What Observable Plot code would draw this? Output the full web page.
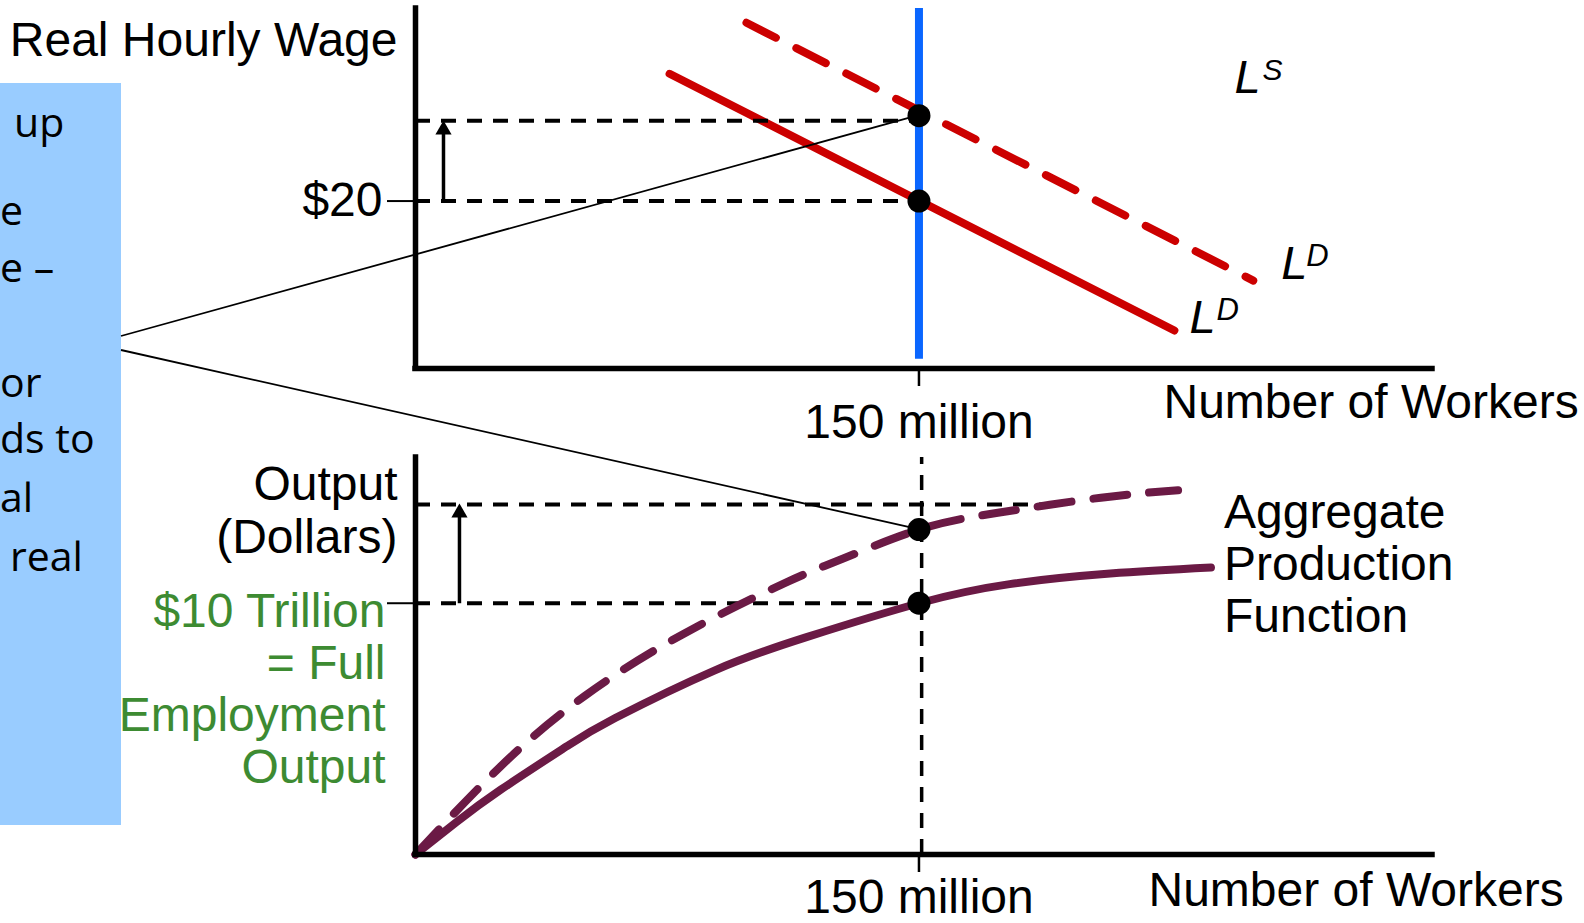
<!DOCTYPE html>
<html>
<head>
<meta charset="utf-8">
<script src="https://cdn.jsdelivr.net/npm/d3@7"></script>
<script src="https://cdn.jsdelivr.net/npm/@observablehq/plot@0.6"></script>
<style>
html, body { margin: 0; padding: 0; background: #fff; }
#wrap { position: relative; width: 1584px; height: 923px; overflow: hidden; }
#wrap > svg { position: absolute; left: 0; }
</style>
</head>
<body>
<div id="wrap"></div>
<script>
// ---------- data ----------
const workerTicks = [150];                 // millions of workers
const wageTicks = [20];                    // $ per hour
const outputTicks = [10];                  // $ trillion
const ldWorkers = [75.7, 226.1];           // labor demand (solid)
const ldWage = [35.2, 4.54];
const ld2Workers = [98.6, 249.6];          // labor demand after shift (dashed)
const ld2Wage = [41.3, 10.5];
const lsWorkers = [150];                   // vertical labor supply
const eqWorkers = [150, 150];
const eqWage = [20, 30.2];                 // old / new equilibrium wage
const wageGuides = [20, 29.6];
const apfWorkers = [0, 12, 25.3, 45, 59.5, 89.2, 116.5, 150, 177, 207, 237];
const apfOutput = [0, 1.27, 2.57, 4.3, 5.43, 7.33, 8.65, 10, 10.76, 11.18, 11.42];
const apf2Workers = [0, 25.3, 50.3, 80.1, 110.8, 127.8, 150, 173.5, 204.2, 227.2];
const apf2Output = [0, 3.5, 6.3, 8.8, 10.85, 11.8, 12.93, 13.6, 14.2, 14.5];
const eqOutput = [10, 12.93];
const outputGuides = [10, 13.93];
const boxLines = ["up", "e", "e –", "or", "ds to", "al", "real"];

// ---------- build tables ----------
const ld = ldWorkers.map((x, i) => ({x, y: ldWage[i]}));
const ld2 = ld2Workers.map((x, i) => ({x, y: ld2Wage[i]}));
const apf = apfWorkers.map((x, i) => ({x, y: apfOutput[i]}));
const apf2 = apf2Workers.map((x, i) => ({x, y: apf2Output[i]}));
const eqTop = eqWorkers.map((x, i) => ({x, y: eqWage[i]}));
const eqBot = eqWorkers.map((x, i) => ({x, y: eqOutput[i]}));

const FONT = "'Liberation Sans', Arial, Helvetica, sans-serif";
const FS = 48;
const RED = "#cc0000", BLUE = "#0a66ff", MAROON = "#6b1a45", GREEN = "#3d8b32";
const DASH = "15,11";
const W = 1584;
const X_DOMAIN = [0, 303];
const common = {
  width: W, marginLeft: 415, marginRight: 152,
  x: {domain: X_DOMAIN},
  style: {fontFamily: FONT, fontSize: FS + "px", background: "transparent", overflow: "visible", color: "#000"}
};

const ldEnd = ld[ld.length - 1], ld2End = ld2[ld2.length - 1];

// ---------- top panel: labor market ----------
const topPlot = Plot.plot({
  ...common,
  height: 460, marginTop: 8, marginBottom: 92,
  y: {domain: [0, 43]},
  marks: [
    Plot.ruleX(lsWorkers.map(x => ({x, y1: 1.1, y2: 43})), {x: "x", y1: "y1", y2: "y2", stroke: BLUE, strokeWidth: 8}),
    Plot.line(ld, {x: "x", y: "y", stroke: RED, strokeWidth: 8}),
    Plot.line(ld2, {x: "x", y: "y", stroke: RED, strokeWidth: 8, strokeDasharray: "33,23"}),
    Plot.ruleY(wageGuides.map(y => ({y, x1: 0, x2: 150})), {y: "y", x1: "x1", x2: "x2", stroke: "#000", strokeWidth: 4, strokeDasharray: DASH}),
    Plot.link([{x: 8.34, y1: wageGuides[0], y2: 28.4}], {x1: "x", x2: "x", y1: "y1", y2: "y2", stroke: "#000", strokeWidth: 3.5}),
    Plot.dot([{x: 8.34, y: 28.5}], {x: "x", y: "y", symbol: "triangle", r: 6, fill: "#000", stroke: null}),
    Plot.dot(eqTop, {x: "x", y: "y", r: 11.5, fill: "#000", stroke: null}),
    Plot.ruleX([0], {stroke: "#000", strokeWidth: 5.5, strokeLinecap: "square"}),
    Plot.ruleY([0], {stroke: "#000", strokeWidth: 5.5, strokeLinecap: "square"}),
    Plot.axisX({ticks: workerTicks, tickFormat: d => `${d} million`, tickSize: 18, tickPadding: 17, strokeWidth: 2.5, label: null, fontSize: FS}),
    Plot.axisY({ticks: wageTicks, tickFormat: d => `$${d}`, tickSize: 28, tickPadding: 5, strokeWidth: 2, label: null, fontSize: FS}),
    Plot.text(["Real Hourly Wage"], {frameAnchor: "top-left", textAnchor: "end", lineAnchor: "top", dx: -18, dy: 13, fontSize: FS}),
    Plot.text(["Number of Workers"], {frameAnchor: "bottom-right", textAnchor: "start", lineAnchor: "top", dx: -269, dy: 15, fontSize: FS}),
    // L^S
    Plot.text([{x: 244.0, y: 32.85, t: "L"}], {x: "x", y: "y", text: "t", textAnchor: "start", lineAnchor: "bottom", fontStyle: "italic", fontSize: 47}),
    Plot.text([{x: 244.0, y: 32.85, t: "S"}], {x: "x", y: "y", text: "t", textAnchor: "start", lineAnchor: "bottom", fontStyle: "italic", fontSize: 30, dx: 28, dy: -13}),
    // L^D (shifted, dashed)
    Plot.text([ld2End], {x: "x", y: "y", text: () => "L", textAnchor: "start", lineAnchor: "bottom", fontStyle: "italic", fontSize: 47, dx: 28, dy: -2}),
    Plot.text([ld2End], {x: "x", y: "y", text: () => "D", textAnchor: "start", lineAnchor: "bottom", fontStyle: "italic", fontSize: 31, dx: 53, dy: -15}),
    // L^D (original)
    Plot.text([ldEnd], {x: "x", y: "y", text: () => "L", textAnchor: "start", lineAnchor: "bottom", fontStyle: "italic", fontSize: 47, dx: 15, dy: 3}),
    Plot.text([ldEnd], {x: "x", y: "y", text: () => "D", textAnchor: "start", lineAnchor: "bottom", fontStyle: "italic", fontSize: 31, dx: 42, dy: -10})
  ]
});

// ---------- bottom panel: production function ----------
const apfEnd = apf[apf.length - 1];
const botPlot = Plot.plot({
  ...common,
  height: 483, marginTop: 17, marginBottom: 69,
  y: {domain: [0, 15.8]},
  marks: [
    Plot.ruleX([{x: 150.8, y1: 0, y2: 15.8}], {x: "x", y1: "y1", y2: "y2", stroke: "#000", strokeWidth: 3.5, strokeDasharray: DASH}),
    Plot.ruleY([{y: outputGuides[0], x1: 0, x2: 150}, {y: outputGuides[1], x1: 0, x2: 190}], {y: "y", x1: "x1", x2: "x2", stroke: "#000", strokeWidth: 4, strokeDasharray: DASH}),
    Plot.line(apf, {x: "x", y: "y", stroke: MAROON, strokeWidth: 8, curve: "natural"}),
    Plot.line(apf2, {x: "x", y: "y", stroke: MAROON, strokeWidth: 8, curve: "natural", strokeDasharray: "34,22"}),
    Plot.link([{x: 13.1, y1: outputGuides[0], y2: 13.5}], {x1: "x", x2: "x", y1: "y1", y2: "y2", stroke: "#000", strokeWidth: 3.5}),
    Plot.dot([{x: 13.1, y: 13.6}], {x: "x", y: "y", symbol: "triangle", r: 6, fill: "#000", stroke: null}),
    Plot.dot(eqBot, {x: "x", y: "y", r: 11.5, fill: "#000", stroke: null}),
    Plot.ruleX([0], {stroke: "#000", strokeWidth: 5.5, strokeLinecap: "square"}),
    Plot.ruleY([0], {stroke: "#000", strokeWidth: 5.5, strokeLinecap: "square"}),
    Plot.axisX({ticks: workerTicks, tickFormat: d => `${d} million`, tickSize: 18, tickPadding: 6, strokeWidth: 2.5, label: null, fontSize: FS}),
    Plot.axisY({ticks: outputTicks, tickFormat: () => "", tickSize: 28, strokeWidth: 2, label: null}),
    Plot.text([`Output\n(Dollars)`], {frameAnchor: "top-left", textAnchor: "end", lineAnchor: "top", dx: -18, dy: 6, fontSize: FS, lineHeight: 1.085}),
    Plot.text([{x: 0, y: outputTicks[0], t: `$${outputTicks[0]} Trillion\n= Full\nEmployment\nOutput`}], {x: "x", y: "y", text: "t", textAnchor: "end", lineAnchor: "top", dx: -30, dy: -13, fill: GREEN, fontSize: FS, lineHeight: 1.085}),
    Plot.text([apfEnd], {x: "x", y: "y", text: () => "Aggregate\nProduction\nFunction", textAnchor: "start", lineAnchor: "middle", dx: 13, dy: -4.5, fontSize: FS, lineHeight: 1.085}),
    Plot.text(["Number of Workers"], {frameAnchor: "bottom-right", textAnchor: "start", lineAnchor: "top", dx: -284, dy: 17, fontSize: FS})
  ]
});

// ---------- assemble ----------
const wrap = document.getElementById("wrap");
const NS = "http://www.w3.org/2000/svg";

// callout box (underneath)
const boxSvg = document.createElementNS(NS, "svg");
boxSvg.setAttribute("width", W); boxSvg.setAttribute("height", 923);
boxSvg.style.top = "0px";
const rect = document.createElementNS(NS, "rect");
rect.setAttribute("x", 0); rect.setAttribute("y", 83);
rect.setAttribute("width", 121); rect.setAttribute("height", 742);
rect.setAttribute("fill", "#99ccff");
boxSvg.appendChild(rect);
const boxX = [14, 0, 0, 0, 0, 0, 10];
const boxY = [137, 225, 282, 397, 453, 512, 571];
boxLines.forEach((t, i) => {
  const el = document.createElementNS(NS, "text");
  el.setAttribute("x", boxX[i]); el.setAttribute("y", boxY[i]);
  el.setAttribute("font-family", "'Open Sans', 'Noto Sans', sans-serif");
  el.setAttribute("font-size", 41);
  el.setAttribute("fill", "#000");
  el.textContent = t;
  boxSvg.appendChild(el);
});
wrap.appendChild(boxSvg);

topPlot.style.top = "0px";
botPlot.style.top = "440px";
wrap.appendChild(topPlot);
wrap.appendChild(botPlot);

// connector lines from the box to the two upper points (positions from the plots' scales)
const tx = topPlot.scale("x"), ty = topPlot.scale("y");
const bx = botPlot.scale("x"), by = botPlot.scale("y");
const over = document.createElementNS(NS, "svg");
over.setAttribute("width", W); over.setAttribute("height", 923);
over.style.top = "0px"; over.style.pointerEvents = "none";
const conns = [
  [121, 336, tx.apply(eqWorkers[1]), ty.apply(eqWage[1])],
  [121, 350, bx.apply(eqWorkers[1]), 440 + by.apply(eqOutput[1])]
];
conns.forEach(([x1, y1, x2, y2]) => {
  const l = document.createElementNS(NS, "line");
  l.setAttribute("x1", x1); l.setAttribute("y1", y1);
  l.setAttribute("x2", x2); l.setAttribute("y2", y2);
  l.setAttribute("stroke", "#000"); l.setAttribute("stroke-width", 1.8);
  over.appendChild(l);
});
wrap.appendChild(over);
</script>
</body>
</html>
